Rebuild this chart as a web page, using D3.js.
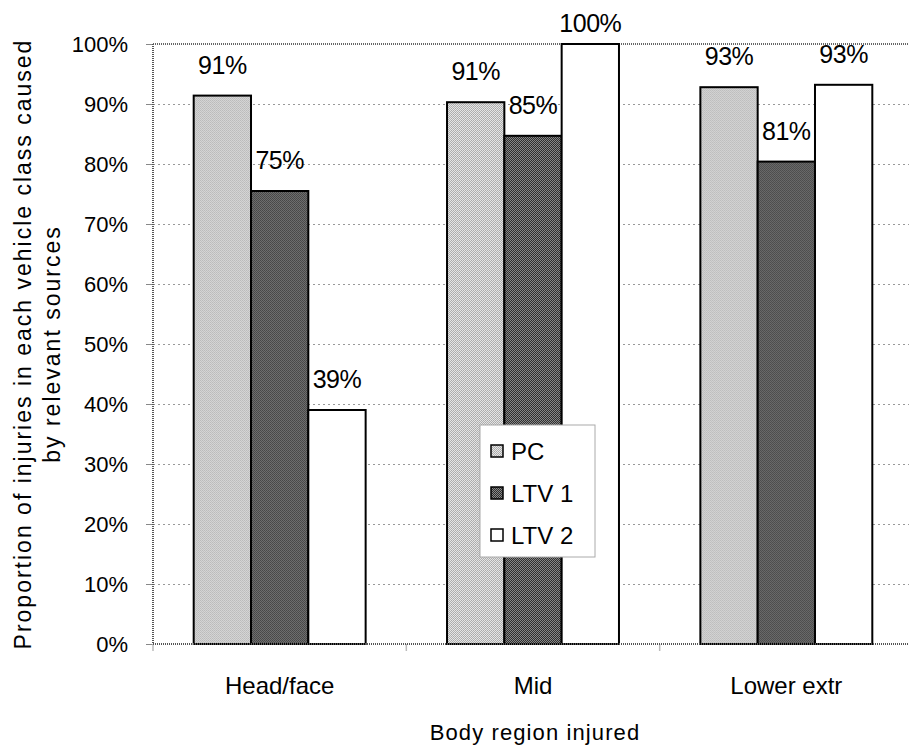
<!DOCTYPE html>
<html><head><meta charset="utf-8">
<script src="https://cdn.jsdelivr.net/npm/d3@7"></script>
<style>body{margin:0;background:#fff}svg{display:block}text{font-family:"Liberation Sans",Arial,sans-serif;fill:#000}</style>
</head><body><svg id="c" width="909" height="749"></svg>
<script>
const categories = ["Head/face", "Mid", "Lower extr"];
const series = ["PC", "LTV 1", "LTV 2"];
const pcValues = [91.4, 90.3, 92.8];
const ltv1Values = [75.5, 84.7, 80.4];
const ltv2Values = [39.0, 100.0, 93.2];
const valueLabels = [["91%", "75%", "39%"], ["91%", "85%", "100%"], ["93%", "81%", "93%"]];
const yTicks = [0, 10, 20, 30, 40, 50, 60, 70, 80, 90, 100];
const xTitle = "Body region injured";
const yTitle = ["Proportion of injuries in each vehicle class caused", "by relevant sources"];

const svg = d3.select("#c");
const L = 153, R = 913, T = 44, B = 644;
const FONT = "Liberation Sans, Arial, sans-serif";

const defs = svg.append("defs");
function pat(id, a, b, c) {
  const p = defs.append("pattern").attr("id", id).attr("patternUnits", "userSpaceOnUse").attr("width", 2).attr("height", 2);
  p.append("rect").attr("width", 2).attr("height", 2).attr("fill", a);
  p.append("rect").attr("width", 1).attr("height", 1).attr("fill", b);
  p.append("rect").attr("x", 1).attr("y", 1).attr("width", 1).attr("height", 1).attr("fill", c);
}
pat("pPC", "#e6e6e6", "#a8a8a8", "#b0b0b0");
pat("pL1", "#8a8a8a", "#2a2a2a", "#303030");
const fills = ["url(#pPC)", "url(#pL1)", "#ffffff"];

const x0 = d3.scaleBand().domain(categories).range([L, R]);
const bw = x0.bandwidth() / (3 + 1.42);
const x1 = d3.scaleBand().domain(series).range([0, bw * 3]);
const y = d3.scaleLinear().domain([0, 100]).range([B, T]);

// gridlines
svg.append("g").selectAll("line").data(yTicks.filter(d => d > 0 && d < 100)).join("line")
  .attr("x1", L).attr("x2", R).attr("y1", d => y(d)).attr("y2", d => y(d))
  .attr("stroke", "#999").attr("stroke-width", 1).attr("stroke-dasharray", "2 3").attr("shape-rendering", "crispEdges");
// top border
svg.append("line").attr("x1", L).attr("x2", R).attr("y1", y(100)).attr("y2", y(100))
  .attr("stroke", "#666").attr("stroke-width", 2).attr("stroke-dasharray", "1 1");

// y axis
const yAxis = svg.append("g").attr("transform", `translate(${L},0)`)
  .call(d3.axisLeft(y).tickValues(yTicks).tickFormat(d => d + "%").tickSize(7).tickPadding(18));
yAxis.select(".domain").remove();
yAxis.selectAll(".tick line").attr("stroke", "#888");
yAxis.selectAll("text").style("font-size", "22px").style("font-family", FONT).attr("fill", "#000");

// x axis
const xAxis = svg.append("g").attr("transform", `translate(0,${B})`)
  .call(d3.axisBottom(x0).tickSize(0).tickPadding(33));
xAxis.select(".domain").remove();
xAxis.selectAll("text").style("font-size", "24px").style("font-family", FONT).attr("fill", "#000");
// category separators
svg.append("g").selectAll("line").data(d3.range(categories.length + 1)).join("line")
  .attr("x1", d => L + d * x0.step()).attr("x2", d => L + d * x0.step())
  .attr("y1", B).attr("y2", B + 7).attr("stroke", "#bbb").attr("stroke-width", 1.5);

// bars
const data = categories.map((c, i) => ({ c, i, vals: [pcValues[i], ltv1Values[i], ltv2Values[i]] }));
const groups = svg.append("g").selectAll("g").data(data).join("g")
  .attr("transform", d => `translate(${x0(d.c) + (x0.bandwidth() - bw * 3) / 2},0)`);
groups.selectAll("rect").data(d => d.vals.map((v, j) => ({ v, j, s: series[j] }))).join("rect")
  .attr("x", d => x1(d.s)).attr("width", x1.bandwidth())
  .attr("y", d => y(d.v)).attr("height", d => B - y(d.v))
  .attr("fill", d => fills[d.j]).attr("stroke", "#000").attr("stroke-width", 2);
groups.selectAll("text.lab").data(d => d.vals.map((v, j) => ({ v, j, s: series[j], t: valueLabels[d.i][j] }))).join("text")
  .attr("class", "lab")
  .attr("x", d => x1(d.s) + x1.bandwidth() / 2).attr("y", d => Math.max(y(d.v) - 22, 32))
  .attr("text-anchor", "middle").style("font-size", "25px").style("letter-spacing", "-0.5px").text(d => d.t);

// x axis baseline
svg.append("line").attr("x1", L).attr("x2", R).attr("y1", B).attr("y2", B)
  .attr("stroke", "#555").attr("stroke-width", 2).attr("stroke-dasharray", "1 1");
// left axis line
svg.append("line").attr("x1", L).attr("x2", L).attr("y1", T).attr("y2", B)
  .attr("stroke", "#555").attr("stroke-width", 2).attr("stroke-dasharray", "1 1");

// legend
const lg = svg.append("g").attr("transform", "translate(480,425)");
lg.append("rect").attr("width", 115).attr("height", 132).attr("fill", "#fff").attr("stroke", "#aaa").attr("stroke-width", 1);
series.forEach((s, i) => {
  const g = lg.append("g").attr("transform", `translate(0,${26 + i * 42})`);
  g.append("rect").attr("x", 11).attr("y", -6).attr("width", 12).attr("height", 12)
    .attr("fill", fills[i]).attr("stroke", "#000").attr("stroke-width", 1.5);
  g.append("text").attr("x", 31).attr("y", 8.5).style("font-size", "24px").text(s);
});

// titles
svg.append("text").attr("x", (L + R) / 2 + 2).attr("y", 740).attr("text-anchor", "middle")
  .style("font-size", "22px").style("letter-spacing", "1.1px").text(xTitle);
const yt = svg.append("text").attr("transform", `translate(0,${(T + B) / 2}) rotate(-90)`).attr("text-anchor", "middle")
  .style("font-size", "23px").style("letter-spacing", "2px");
yt.append("tspan").attr("x", 0).attr("y", 31).text(yTitle[0]);
yt.append("tspan").attr("x", 0).attr("y", 60).text(yTitle[1]);
</script></body></html>
